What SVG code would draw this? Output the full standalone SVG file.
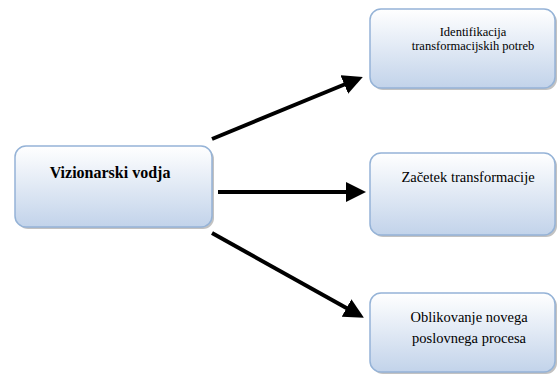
<svg xmlns="http://www.w3.org/2000/svg" width="558" height="376" viewBox="0 0 558 376">
<style>
.box{fill:url(#g);stroke:#95b3d7;stroke-width:1.5}
.sh{fill:#9a9a9a;opacity:0.6}
.t{font-family:"Liberation Serif","Times New Roman",serif;fill:#000;text-anchor:middle}
.c{stroke:#000;stroke-width:4;fill:none;marker-end:url(#ah)}
</style>
<defs>
<linearGradient id="g" x1="0" y1="0" x2="0" y2="1">
<stop offset="0" stop-color="#ffffff"/>
<stop offset="1" stop-color="#c2d3ea"/>
</linearGradient>
<marker id="ah" markerWidth="5" markerHeight="5" refX="1" refY="2.5" orient="auto" markerUnits="strokeWidth" viewBox="0 0 5 5">
<path d="M0,0 L5,2.5 L0,5 z" fill="#000"/>
</marker>
</defs>
<g id="connectors">
<line class="c" x1="212" y1="139" x2="348" y2="83"/>
<line class="c" x1="218" y1="192" x2="350" y2="192"/>
<line class="c" x1="212" y1="233" x2="350" y2="310"/>
</g>
<g id="n-vizionarski">
<rect class="sh" x="17" y="148" width="197" height="81" rx="11"/>
<rect class="box" x="15" y="146" width="197" height="81" rx="11"/>
<text class="t" x="110" y="178" font-size="16" font-weight="bold">Vizionarski vodja</text>
</g>
<g id="n-identifikacija">
<rect class="sh" x="372" y="11" width="185" height="79" rx="11"/>
<rect class="box" x="370" y="9" width="185" height="79" rx="11"/>
<text class="t" x="473" y="36" font-size="12.5">Identifikacija</text>
<text class="t" x="473" y="50" font-size="12.5">transformacijskih potreb</text>
</g>
<g id="n-zacetek">
<rect class="sh" x="372" y="155" width="185" height="82" rx="11"/>
<rect class="box" x="370" y="153" width="185" height="82" rx="11"/>
<text class="t" x="468" y="182" font-size="14.5">Začetek transformacije</text>
</g>
<g id="n-oblikovanje">
<rect class="sh" x="372" y="295" width="185" height="79" rx="11"/>
<rect class="box" x="370" y="293" width="185" height="79" rx="11"/>
<text class="t" x="469" y="322" font-size="14.5">Oblikovanje novega</text>
<text class="t" x="469" y="343" font-size="14.5">poslovnega procesa</text>
</g>
</svg>
